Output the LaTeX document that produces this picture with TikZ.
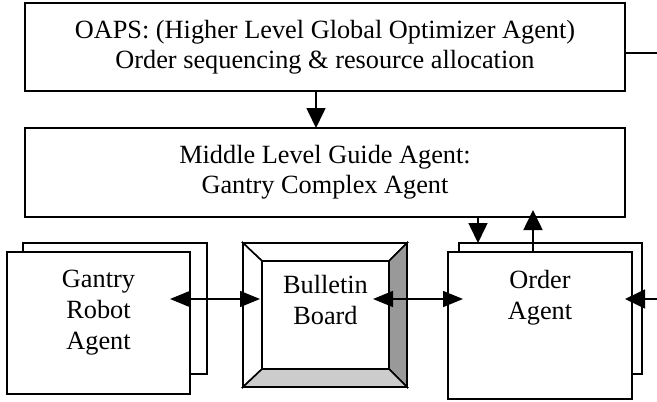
\documentclass[tikz,border=0pt]{standalone}
\usepackage{fontspec}
\setmainfont{Liberation Serif}
\usetikzlibrary{arrows.meta,calc}
\definecolor{bdark}{HTML}{999999}
\definecolor{blight}{HTML}{CCCCCC}
\begin{document}
\begin{tikzpicture}[x=1pt,y=-1pt,
  box/.style={draw, line width=1.6pt, fill=white, inner sep=0pt, outer sep=0pt},
  toptext/.style={font=\fontsize{26.3}{30}\selectfont, align=center},
  lbl/.style={font=\fontsize{26.3}{31}\selectfont, align=center, inner sep=0pt},
  conn/.style={line width=1.6pt},
  arr/.style={line width=1.6pt, -{Triangle[length=20pt,width=19pt]}},
  darr/.style={line width=1.6pt, {Triangle[length=20pt,width=16pt]}-{Triangle[length=20pt,width=16pt]}}]
\useasboundingbox (0,0) rectangle (657,402);

% top and middle boxes
\node[box, toptext, minimum width=600pt, minimum height=88pt] (oaps) at (325,47)
  {OAPS: (Higher Level Global Optimizer Agent)\\Order sequencing \& resource allocation};
\node[box, toptext, minimum width=600pt, minimum height=89pt] (mid) at (325,172.5)
  {Middle Level Guide Agent:\\Gantry Complex Agent};

% gantry robot agent boxes
\node[box, minimum width=184pt, minimum height=131pt] (gback) at (115,308.5) {};
\node[box, minimum width=183pt, minimum height=142pt] (gfront) at (98.5,323) {};

% order agent boxes
\node[box, minimum width=183pt, minimum height=131pt] (oback) at (550.5,308.5) {};
\node[box, minimum width=184pt, minimum height=147pt] (ofront) at (540,325.5) {};

% bulletin board (bevelled)
\node[box, minimum width=164pt, minimum height=144pt] (bouter) at (325,315) {};
\node[box, minimum width=127pt, minimum height=108pt] (binner) at (325.5,315) {};
\filldraw[line width=1.6pt, fill=white] (bouter.north west) -- (bouter.north east) -- (binner.north east) -- (binner.north west) -- cycle;
\filldraw[line width=1.6pt, fill=white] (bouter.north west) -- (binner.north west) -- (binner.south west) -- (bouter.south west) -- cycle;
\filldraw[line width=1.6pt, fill=bdark] (bouter.north east) -- (bouter.south east) -- (binner.south east) -- (binner.north east) -- cycle;
\filldraw[line width=1.6pt, fill=blight] (bouter.south west) -- (bouter.south east) -- (binner.south east) -- (binner.south west) -- cycle;

% labels
\node[lbl, anchor=north] (gtext) at (98.5,270) {Gantry\\Robot\\Agent};
\node[lbl, anchor=north] (btext) at (325.5,275) {Bulletin\\Board};
\node[lbl, anchor=north] (otext) at (540,270) {Order\\Agent};

% connectors
\coordinate (yrow) at (0,299);
\coordinate (rout) at (657,53);
\coordinate (rin) at (657,299);
\draw[conn] (oaps.east|-rout) -- (rout);
\draw[arr] ($(oaps.south)+(-9,0)$) -- ($(mid.north)+(-9,0)$);
\draw[arr] ($(mid.south)+(153,0)$) -- ($(oback.north)+(-72.5,0)$);
\draw[arr] ($(ofront.north)+(-7,0)$) -- ($(mid.south)+(208,-7)$);
\draw[darr] ($(gfront.east|-yrow)+(-20,0)$) -- ($(binner.west|-yrow)+(-2,0)$);
\draw[darr] ($(binner.east|-yrow)+(-16,0)$) -- ($(ofront.west|-yrow)+(15,0)$);
\draw[arr] (rin) -- ($(ofront.east|-yrow)+(-7,0)$);
\end{tikzpicture}
\end{document}
